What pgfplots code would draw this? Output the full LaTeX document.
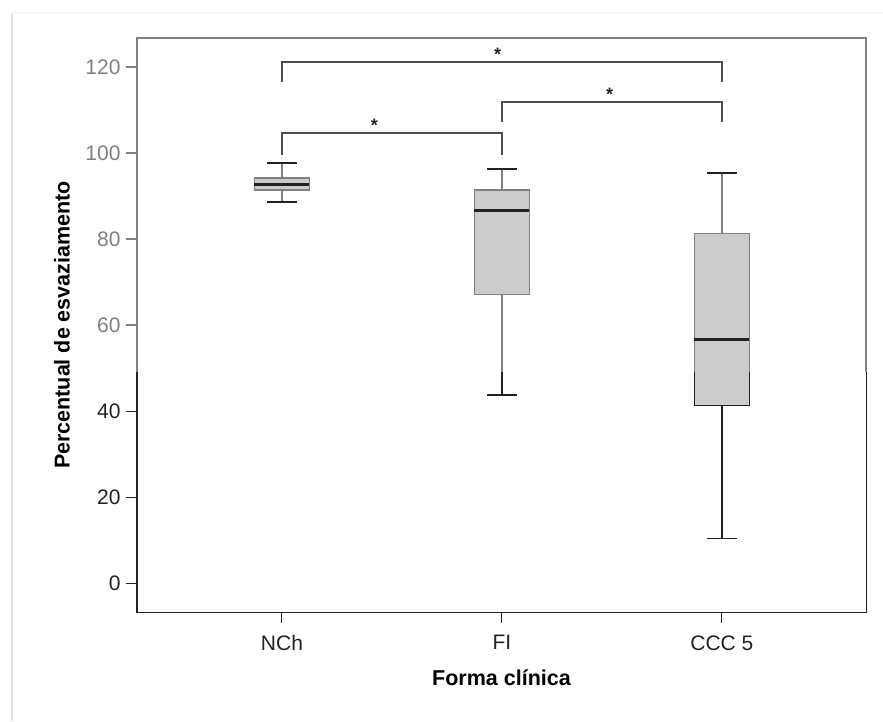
\documentclass[border=0pt]{standalone}
\usepackage{pgfplots}
\pgfplotsset{compat=1.18}
\usepackage{fontspec}
\setmainfont{Liberation Sans}

\definecolor{boxfill}{HTML}{CCCCCC}
\definecolor{ink}{HTML}{222222}
\definecolor{fade}{HTML}{808080}
\definecolor{bracket}{HTML}{4F4F4F}

\begin{document}
\begin{tikzpicture}
% faint page frame
\draw[black!12, line width=1.5pt] (12pt,0pt) -- (12pt,707pt);
\draw[black!5, line width=1pt] (12pt,708pt) -- (883pt,708pt);
\begin{axis}[
  at={(137pt,109pt)}, anchor=south west,
  scale only axis, width=729pt, height=574pt,
  xmin=0.341, xmax=3.655, ymin=-6.74, ymax=126.74,
  clip=false,
  axis line style={draw=none},
  xtick={1,2,3}, xticklabels={NCh,FI,CCC 5},
  ytick={0,20,40},
  extra y ticks={60,80,100,120},
  extra y tick style={major tick style={draw=fade, line width=1.5pt}, yticklabel style={text=fade}},
  tick pos=left, tick align=outside,
  major tick length=11pt,
  tick style={ink, line width=1pt},
  ticklabel style={font=\fontsize{21}{21}\selectfont, text=ink},
  xticklabel style={yshift=-9pt},
  yticklabel style={xshift=-2pt},
  /pgf/number format/assume math mode=true,
  xlabel={Forma clínica},
  ylabel={Percentual de esvaziamento},
  every axis x label/.style={at={(axis description cs:0.5,0)}, yshift=-66pt, anchor=center,
    font=\bfseries\fontsize{21.5}{21.5}\selectfont, text=black},
  every axis y label/.style={at={(axis description cs:0,0.5)}, xshift=-75pt, rotate=90, anchor=center,
    font=\bfseries\fontsize{21.5}{21.5}\selectfont, text=black},
]
% frame: dark lower part, lighter upper part
\draw[ink, line width=1pt] (rel axis cs:0,0.4176) -- (rel axis cs:0,0) -- (rel axis cs:1,0) -- (rel axis cs:1,0.4176);
\draw[fade, line width=1.5pt] (rel axis cs:0,0.4176) -- (rel axis cs:0,1) -- (rel axis cs:1,1) -- (rel axis cs:1,0.4176);

% boxes: lower quartile to upper quartile, half width 0.125
\addplot[draw=fade, fill=boxfill, line width=1.5pt] coordinates {(0.875,91.4) (1.125,91.4) (1.125,94.2) (0.875,94.2)} -- cycle;
\addplot[draw=fade, fill=boxfill, line width=1.5pt] coordinates {(1.875,67.1) (2.125,67.1) (2.125,91.4) (1.875,91.4)} -- cycle;
\addplot[draw=none, fill=boxfill] coordinates {(2.875,41.2) (3.125,41.2) (3.125,81.3) (2.875,81.3)} -- cycle;
\addplot[ink, line width=1.2pt] coordinates {(2.875,49) (2.875,41.2) (3.125,41.2) (3.125,49)};
\addplot[fade, line width=1.5pt] coordinates {(2.875,49) (2.875,81.3) (3.125,81.3) (3.125,49)};

% whiskers
\addplot[fade, line width=1.5pt] coordinates {(1,94.2) (1,97.7)};
\addplot[fade, line width=1.5pt] coordinates {(1,91.4) (1,88.6)};
\addplot[fade, line width=1.5pt] coordinates {(2,91.4) (2,96.2)};
\addplot[fade, line width=1.5pt] coordinates {(2,67.1) (2,49)};
\addplot[ink, line width=1.2pt] coordinates {(2,49) (2,43.7)};
\addplot[fade, line width=1.5pt] coordinates {(3,81.3) (3,95.3)};
\addplot[ink, line width=1.2pt] coordinates {(3,41.2) (3,10.4)};

% whisker caps
\addplot[ink, line width=2pt] coordinates {(0.932,97.7) (1.068,97.7)};
\addplot[ink, line width=2pt] coordinates {(0.932,88.6) (1.068,88.6)};
\addplot[ink, line width=2pt] coordinates {(1.932,96.2) (2.068,96.2)};
\addplot[ink, line width=2pt] coordinates {(1.932,43.7) (2.068,43.7)};
\addplot[ink, line width=2pt] coordinates {(2.932,95.3) (3.068,95.3)};
\addplot[ink, line width=1.5pt] coordinates {(2.932,10.4) (3.068,10.4)};

% medians
\addplot[ink, line width=2.8pt] coordinates {(0.875,92.6) (1.125,92.6)};
\addplot[ink, line width=2.8pt] coordinates {(1.875,86.6) (2.125,86.6)};
\addplot[ink, line width=2.8pt] coordinates {(2.875,56.7) (3.125,56.7)};

% significance brackets
\addplot[bracket, line width=1.8pt] coordinates {(1,116.5) (1,121.2) (3,121.2) (3,116.5)};
\addplot[bracket, line width=1.8pt] coordinates {(2,107.2) (2,111.9) (3,111.9) (3,107.2)};
\addplot[bracket, line width=1.8pt] coordinates {(1,99.5) (1,104.7) (2,104.7) (2,99.5)};
\node[anchor=south, inner sep=1pt, font=\bfseries\fontsize{18}{18}\selectfont, text=ink] at (axis cs:1.98,121.2) {*};
\node[anchor=south, inner sep=1pt, font=\bfseries\fontsize{18}{18}\selectfont, text=ink] at (axis cs:2.49,111.9) {*};
\node[anchor=south, inner sep=1pt, font=\bfseries\fontsize{18}{18}\selectfont, text=ink] at (axis cs:1.42,104.7) {*};
\end{axis}
\pgfresetboundingbox
\useasboundingbox (0,0) rectangle (883pt,721pt);
\end{tikzpicture}
\end{document}
